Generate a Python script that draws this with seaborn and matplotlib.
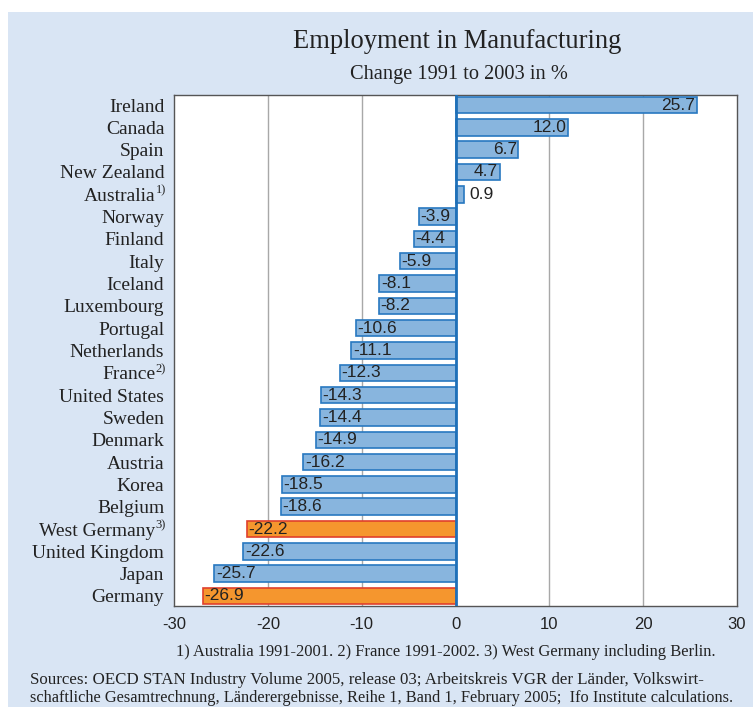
import matplotlib
matplotlib.use("Agg")
import matplotlib.pyplot as plt
import seaborn as sns
import pandas as pd
from matplotlib.patches import Rectangle

countries = ["Ireland", "Canada", "Spain", "New Zealand", "Australia", "Norway", "Finland",
             "Italy", "Iceland", "Luxembourg", "Portugal", "Netherlands", "France",
             "United States", "Sweden", "Denmark", "Austria", "Korea", "Belgium",
             "West Germany", "United Kingdom", "Japan", "Germany"]
values = [25.7, 12.0, 6.7, 4.7, 0.9, -3.9, -4.4, -5.9, -8.1, -8.2, -10.6, -11.1, -12.3,
          -14.3, -14.4, -14.9, -16.2, -18.5, -18.6, -22.2, -22.6, -25.7, -26.9]
footnote_marks = {"Australia": "1)", "France": "2)", "West Germany": "3)"}
highlight = ["West Germany", "Germany"]
xticks = [-30, -20, -10, 0, 10, 20, 30]

sns.set_theme(style="white")

df = pd.DataFrame({"country": countries, "value": values,
                   "group": ["hl" if c in highlight else "base" for c in countries]})

fig = plt.figure(figsize=(7.53, 7.07), dpi=100, facecolor="white")
fig.patches.append(Rectangle((8/753, 0), 1, 1 - 12/707, transform=fig.transFigure,
                             facecolor="#d9e5f4", edgecolor="none", zorder=-10))
ax = fig.add_axes([174/753, 1 - 606/707, (737-174)/753, (606-95)/707])
ax.set_facecolor("white")

blue_fill, blue_edge = "#88b5de", "#2878c0"
or_fill, or_edge = "#f5962e", "#e0402c"
sns.barplot(data=df, y="country", x="value", hue="group", orient="h",
            palette={"base": blue_fill, "hl": or_fill}, dodge=False, legend=False,
            saturation=1, width=0.74, ax=ax, zorder=3)
for bar in ax.patches:
    y = bar.get_y() + bar.get_height() / 2
    idx = int(round(y))
    if 0 <= idx < len(countries):
        c = countries[idx]
        bar.set_edgecolor(or_edge if c in highlight else blue_edge)
        bar.set_linewidth(1.2)

ax.set_xlim(-30, 30)
ax.set_ylim(len(countries) - 0.55, -0.45)
ax.set_xticks(xticks)
ax.set_xticklabels([str(t) for t in xticks], family="Liberation Sans", fontsize=12, color="#222222")
ax.tick_params(axis="x", length=0, pad=8)
ax.tick_params(axis="y", length=0, pad=7)
ax.set_yticks(range(len(countries)))
ax.set_yticklabels(["" if c in footnote_marks else c for c in countries],
                   family="Liberation Serif", fontsize=14, color="#222222")
ax.set_xlabel("")
ax.set_ylabel("")

# country labels with small superscript footnote marks
fig.canvas.draw()
renderer = fig.canvas.get_renderer()
for i, c in enumerate(countries):
    if c not in footnote_marks:
        continue
    sup = ax.annotate(footnote_marks[c], xy=(0, i), xycoords=("axes fraction", "data"),
                      xytext=(-8, 4), textcoords="offset pixels", ha="right", va="center",
                      family="Liberation Serif", fontsize=9, color="#222222", annotation_clip=False)
    w = sup.get_window_extent(renderer).width
    ax.annotate(c, xy=(0, i), xycoords=("axes fraction", "data"),
                xytext=(-8.5 - w, 0), textcoords="offset pixels", ha="right", va="center_baseline",
                family="Liberation Serif", fontsize=14, color="#222222", annotation_clip=False)

for t in [-20, -10, 10, 20]:
    ax.axvline(t, color="#a8a8a8", lw=1, zorder=1)
ax.axvline(0, color="#1f70b8", lw=2, zorder=5)
for s in ax.spines.values():
    s.set_color("#555555")
    s.set_linewidth(1)

for i, v in enumerate(values):
    txt = f"{v:.1f}"
    kw = dict(va="center", family="Liberation Sans", fontsize=12.5, color="#222222", zorder=6)
    if abs(v) < 2:
        ax.text(v + 0.6, i, txt, ha="left", **kw)
    elif v > 0:
        ax.text(v - 0.15, i, txt, ha="right", **kw)
    else:
        ax.text(v + 0.15, i, txt, ha="left", **kw)

fig.text(457/753, 1 - 42/707, "Employment in Manufacturing", ha="center", va="center",
         family="Liberation Serif", fontsize=19.1, color="#222222")
fig.text(459/753, 1 - 74/707, "Change 1991 to 2003 in %", ha="center", va="center",
         family="Liberation Serif", fontsize=14.7, color="#222222")
fig.text(446/753, 1 - 652/707, "1) Australia 1991-2001. 2) France 1991-2002. 3) West Germany including Berlin.",
         ha="center", va="center", family="Liberation Serif", fontsize=11.9, color="#222222")
fig.text(30/753, 1 - 680/707, "Sources: OECD STAN Industry Volume 2005, release 03; Arbeitskreis VGR der Länder, Volkswirt-",
         ha="left", va="center", family="Liberation Serif", fontsize=12.2, color="#222222")
fig.text(30/753, 1 - 698/707, "schaftliche Gesamtrechnung, Länderergebnisse, Reihe 1, Band 1, February 2005;  Ifo Institute calculations.",
         ha="left", va="center", family="Liberation Serif", fontsize=11.8, color="#222222")

fig.savefig("out.png", dpi=100, facecolor="white")
